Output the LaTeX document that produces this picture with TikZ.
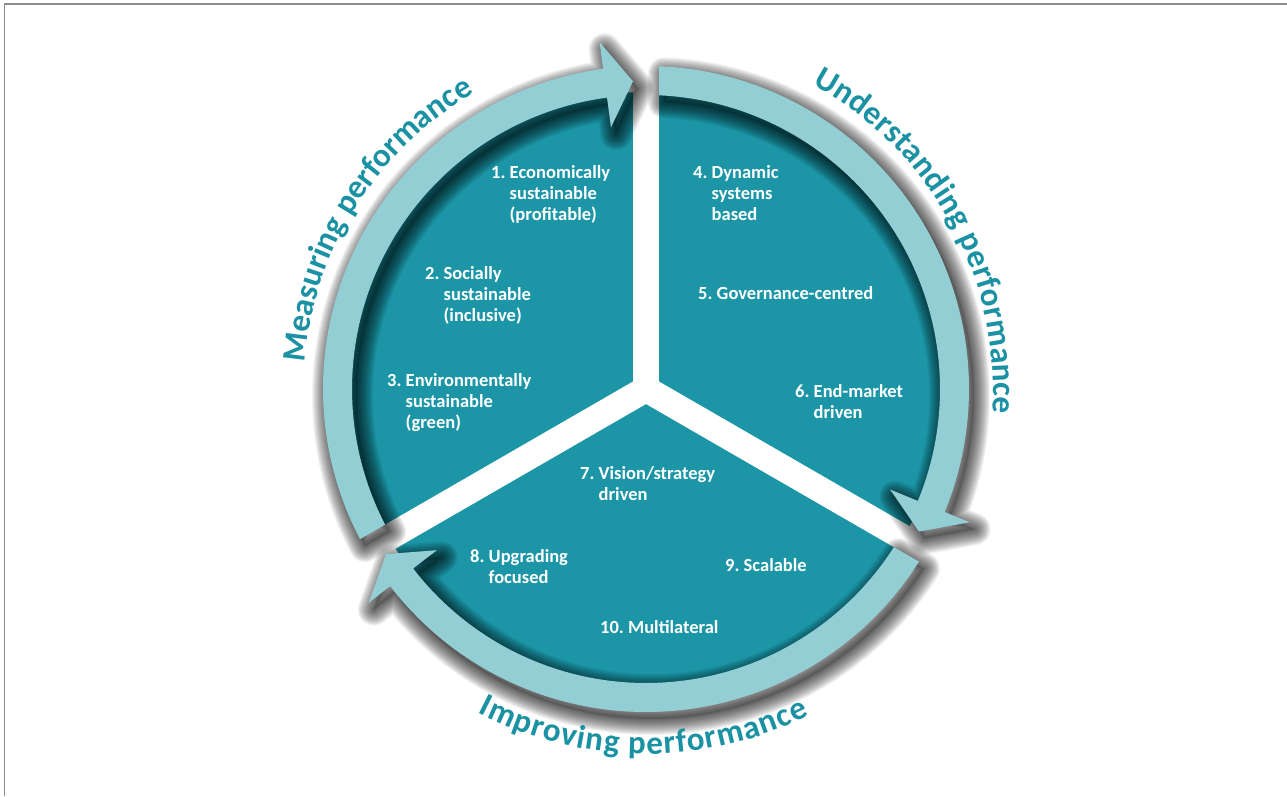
\documentclass[tikz,border=0pt]{standalone}
\usepackage{fontspec}
\setmainfont{Carlito}
\usetikzlibrary{decorations.text}
\definecolor{pieteal}{RGB}{28,150,167}
\definecolor{ringlight}{RGB}{147,206,213}
\definecolor{curveteal}{RGB}{27,146,163}
\definecolor{framegray}{RGB}{140,140,140}
\newcommand\curvefont{\fontsize{33}{33}\selectfont\bfseries}
\newcommand\ringshape[2]{%
  \pgfmathsetmacro\RAi{#1-2.534}%
  \pgfmathsetmacro\RAo{#1-2.307}%
  \pgfmathsetmacro\RAt{#1-120+2.423}%
  \pgfmathsetmacro\RAb{\RAt+5.2}%
  \path[#2] (\RAo:323pt) arc[start angle=\RAo, end angle=\RAb, radius=323pt]
    -- (\RAb:350pt) -- (\RAt:308pt) -- (\RAb:264pt) -- (\RAb:294pt)
    arc[start angle=\RAb, end angle=\RAi, radius=294pt] -- cycle;}
\tikzset{
  itemtext/.style={text=white, font=\fontsize{18.5}{21}\selectfont\bfseries, inner sep=0pt, anchor=base west},
  curvetext/.style={decorate, decoration={text along path, text={|\curvefont|#1}, text align={fit to path}, text color=curveteal}}
}
\begin{document}
\begin{tikzpicture}[x=1pt,y=1pt]
\fill[white] (0,0) rectangle (1287,-796);
\useasboundingbox (0,0) rectangle (1287,-796);
\draw[framegray, line width=1.5pt] (4.5,-796) -- (4.5,-4) -- (1287,-4);
\begin{scope}[shift={(646,-389)}]
  \fill[pieteal] (0,0) circle[radius=297pt];
  \foreach \a in {90,210,330} \draw[white, line width=26pt] (0,0) -- (\a:335pt);
  \fill[white] (0,0) circle[radius=13pt];
  % soft shadows
  \foreach \p in {210,90,-30} {
    \foreach \w in {32,30,...,2} {\ringshape{\p}{draw=black, line width=\w pt, opacity=0.05, line join=round, xshift=5pt, yshift=-7pt}}
    \ringshape{\p}{fill=black, opacity=0.15, xshift=5pt, yshift=-7pt}
  }
  % ring arrows
  \foreach \p in {210,90,-30} {\ringshape{\p}{fill=ringlight}}
  % curved labels
  \path[curvetext={Measuring performance}] (175.5:342pt) arc[start angle=175.5, end angle=121, radius=342pt];
  \path[curvetext={Understanding performance}] (61.4:347pt) arc[start angle=61.4, end angle=-4, radius=347pt];
  \path[curvetext={Improving performance}] (-117.5:365pt) arc[start angle=-117.5, end angle=-63.5, radius=365pt];
\end{scope}
\node[itemtext] (i1) at (491,-178) {\begin{tabular}[t]{@{}l@{\hspace{4.2pt}}l@{}}1. & Economically\\ & sustainable\\ & (profitable)\end{tabular}};
\node[itemtext] (i2) at (425,-279) {\begin{tabular}[t]{@{}l@{\hspace{4.2pt}}l@{}}2. & Socially\\ & sustainable\\ & (inclusive)\end{tabular}};
\node[itemtext] (i3) at (387,-386) {\begin{tabular}[t]{@{}l@{\hspace{4.2pt}}l@{}}3. & Environmentally\\ & sustainable\\ & (green)\end{tabular}};
\node[itemtext] (i4) at (693,-178) {\begin{tabular}[t]{@{}l@{\hspace{4.2pt}}l@{}}4. & Dynamic\\ & systems\\ & based\end{tabular}};
\node[itemtext] (i5) at (698,-299) {5.\hspace{4.2pt}Governance-centred};
\node[itemtext] (i6) at (795,-397) {\begin{tabular}[t]{@{}l@{\hspace{4.2pt}}l@{}}6. & End-market\\ & driven\end{tabular}};
\node[itemtext] (i7) at (580,-479) {\begin{tabular}[t]{@{}l@{\hspace{4.2pt}}l@{}}7. & Vision/strategy\\ & driven\end{tabular}};
\node[itemtext] (i8) at (470,-562) {\begin{tabular}[t]{@{}l@{\hspace{4.2pt}}l@{}}8. & Upgrading\\ & focused\end{tabular}};
\node[itemtext] (i9) at (725,-571) {9.\hspace{4.2pt}Scalable};
\node[itemtext] (i10) at (600,-633) {10.\hspace{4.2pt}Multilateral};
\end{tikzpicture}
\end{document}
